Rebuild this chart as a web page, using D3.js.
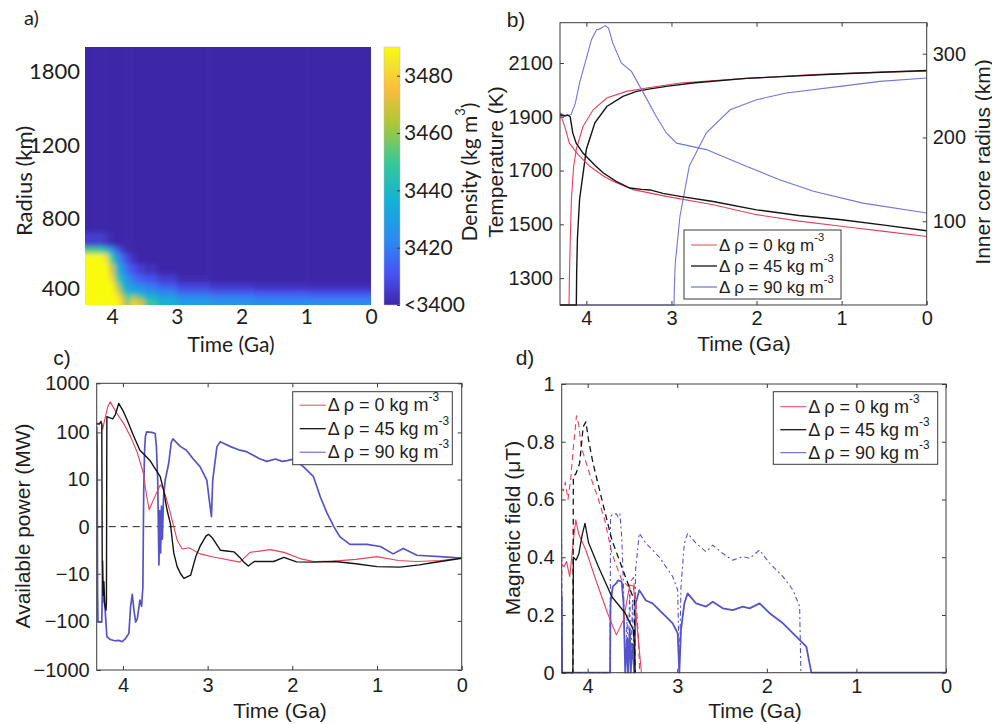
<!DOCTYPE html>
<html><head><meta charset="utf-8">
<script src="https://cdn.jsdelivr.net/npm/d3@7"></script>
<style>body{margin:0;background:#fff}</style>
</head><body>
<svg id="chart" width="992" height="724"></svg>
<script>
// ---------------- DATA ----------------
const timeTicks = [4, 3, 2, 1, 0];
const seriesNames = ["0", "45", "90"];
const seriesColors = ["#e8405a", "#141414", "#5454c8"];

// Panel a: density field (rows bottom->top, columns old->young)
const heatTimeEdges = [4.7, 4.28, 4.14, 4.05, 3.96, 3.88, 3.8, 3.72, 3.62, 3.5, 3.3, 3.0, 2.5, 1.8, 1.0, -0.3];
const heatRadiusEdges = [200, 330, 360, 390, 430, 480, 540, 600, 640, 720, 900, 2200];
const densityGrid = [
  [3500,3500,3500,3500,3494,3478,3455,3480,3472,3450,3438,3430,3427,3425,3424],
  [3500,3500,3500,3500,3488,3472,3450,3466,3456,3440,3431,3425,3421,3419,3418],
  [3500,3500,3500,3500,3480,3455,3440,3438,3434,3428,3422,3416,3413,3411,3410],
  [3500,3500,3500,3490,3468,3442,3432,3428,3424,3420,3414,3408,3405,3403,3402],
  [3500,3500,3500,3482,3452,3435,3425,3418,3414,3410,3406,3401,3398,3396,3395],
  [3500,3500,3494,3470,3440,3425,3415,3410,3406,3403,3399,3396,3395,3395,3395],
  [3500,3500,3484,3450,3428,3415,3408,3403,3399,3396,3395,3395,3395,3395,3395],
  [3452,3450,3442,3425,3412,3405,3398,3395,3395,3395,3395,3395,3395,3395,3395],
  [3406,3406,3404,3401,3398,3395,3395,3395,3395,3395,3395,3395,3395,3395,3395],
  [3395,3395,3395,3395,3395,3395,3395,3395,3395,3395,3395,3395,3395,3395,3395],
  [3395,3395,3395,3395,3395,3395,3395,3395,3395,3395,3395,3395,3395,3395,3395]
];
const radiusTicks = [400, 800, 1200, 1800];
const densityTicks = [3400, 3420, 3440, 3460, 3480];
const densityTickLabels = ["<3400", "3420", "3440", "3460", "3480"];

// Panel b: temperature (K) and inner core radius (km)
const tempTicks = [1300, 1500, 1700, 1900, 2100];
const icTicks = [100, 200, 300];
const tempRed = [[4.31,1914],[4.25,1860],[4.2,1802],[4.1,1760],[3.96,1716],[3.8,1680],[3.69,1660],[3.45,1629],[3.06,1604],[2.51,1573],[2.0,1536],[1.5,1512],[0.98,1492],[0.5,1474],[0,1455]];
const tempBlack = [[4.31,1908],[4.26,1903],[4.22,1907],[4.19,1900],[4.16,1840],[4.12,1802],[4.04,1765],[3.9,1720],[3.8,1691],[3.65,1660],[3.49,1635],[3.35,1630],[3.25,1628],[3.1,1615],[2.9,1604],[2.51,1585],[2.0,1554],[1.5,1533],[1.0,1517],[0.5,1497],[0,1476]];
const tempBlue = [[4.31,1914],[4.24,1902],[4.18,1908],[4.13,1950],[4.08,2026],[3.94,2187],[3.88,2224],[3.84,2227],[3.78,2239],[3.74,2230],[3.69,2175],[3.59,2100],[3.47,2069],[3.33,1989],[3.18,1902],[3.06,1840],[2.94,1802],[2.59,1778],[2.12,1716],[1.73,1666],[1.33,1623],[0.75,1579],[0,1542]];
const icRed = [[4.31,0],[4.204,0],[4.2,30],[4.19,75],[4.176,126],[4.15,165],[4.118,186],[4.04,213],[3.92,233],[3.76,247],[3.53,255],[3.29,259],[2.9,265],[2.12,270.5],[1.33,275],[0.5,278],[0,279]];
const icBlack = [[4.31,0],[4.118,0],[4.114,40],[4.105,80],[4.08,126],[4.0,186],[3.9,217.5],[3.76,237],[3.57,249],[3.41,255],[3.25,258],[3.06,261],[2.75,265],[2.12,270.5],[1.0,276],[0,280]];
const icBlue = [[4.31,0],[2.97,0],[2.965,25],[2.955,50],[2.9,106],[2.79,166],[2.59,205.6],[2.31,233],[2.0,245],[1.65,253],[1.02,261],[0.55,267],[0,271]];

// Panel c: available power (MW)
const powerTicks = [-1000, -100, -10, 0, 10, 100, 1000];
const powRed = [[4.31,155],[4.28,150],[4.26,172],[4.24,115],[4.21,200],[4.18,330],[4.15,420],[4.12,340],[4.07,244],[3.99,150],[3.91,82],[3.83,38],[3.76,14],[3.72,4],[3.69,1.5],[3.62,4],[3.56,7.5],[3.52,6],[3.44,1.1],[3.36,-1.1],[3.3,-2.3],[3.22,-2.1],[3.09,-3.2],[2.93,-3.9],[2.62,-5.3],[2.5,-2.9],[2.26,-2.4],[2.1,-2.9],[1.91,-4.3],[1.75,-5.1],[1.51,-5.0],[1.25,-4.5],[1.0,-3.8],[0.75,-4.8],[0.53,-5.1],[0.25,-4.8],[0,-4.2]];
const powBlack = [[4.31,150],[4.28,148],[4.26,165],[4.25,150],[4.245,-4],[4.235,-30],[4.225,-15],[4.215,-45],[4.2,-60],[4.195,-40],[4.19,210],[4.16,200],[4.12,190],[4.09,230],[4.05,390],[4.0,280],[3.95,180],[3.88,90],[3.8,43],[3.68,26],[3.56,11.6],[3.52,5.6],[3.48,1.5],[3.44,0.2],[3.4,-3],[3.36,-6.8],[3.32,-10],[3.28,-12.7],[3.2,-10.7],[3.14,-3.8],[3.09,-1.9],[3.02,-0.7],[2.99,-0.54],[2.94,-0.9],[2.85,-2.5],[2.75,-2.7],[2.69,-2.8],[2.62,-4],[2.58,-5.1],[2.52,-6.6],[2.45,-5.1],[2.22,-5.1],[2.1,-4],[1.95,-5.2],[1.75,-5.3],[1.5,-5.1],[1.25,-5.8],[1.0,-6.8],[0.73,-7.0],[0.5,-6.2],[0.33,-5.4],[0,-4.2]];
const powBlue = [[4.31,131],[4.305,60],[4.3,-20],[4.295,-106],[4.27,-106],[4.25,-106],[4.245,-30],[4.24,-5],[4.235,-40],[4.225,-33],[4.21,-60],[4.19,-210],[4.15,-240],[4.1,-255],[4.05,-250],[4.01,-266],[3.97,-230],[3.93,-180],[3.91,-51],[3.89,-28],[3.87,-60],[3.85,-106],[3.83,-90],[3.8,-37],[3.78,-50],[3.765,-20],[3.755,5],[3.745,40],[3.735,82],[3.72,103],[3.66,100],[3.62,95],[3.605,51],[3.59,10],[3.575,-6.2],[3.565,1.4],[3.555,-3],[3.545,2],[3.535,-1],[3.52,4],[3.5,10],[3.46,22.5],[3.43,62],[3.41,74],[3.32,51],[3.25,43],[3.17,28],[3.09,19.3],[3.01,9.7],[2.98,3],[2.955,0.74],[2.94,9.7],[2.89,51],[2.85,64.6],[2.73,51],[2.62,43],[2.54,40],[2.38,28],[2.3,25],[2.2,28],[2.12,25],[2.06,26],[1.99,28],[1.87,19.3],[1.75,11.6],[1.67,3.8],[1.59,1.1],[1.51,0],[1.44,-0.74],[1.32,-1.6],[1.12,-1.6],[0.96,-1.9],[0.81,-3.2],[0.69,-2.2],[0.53,-3.5],[0.26,-3.8],[0,-4.2]];

// Panel d: magnetic field (microtesla), solid and dashed estimates
const fieldTicks = [0, 0.2, 0.4, 0.6, 0.8, 1];
const bRedSolid = [[4.3,0.379],[4.263,0.367],[4.237,0.385],[4.2,0.333],[4.163,0.448],[4.133,0.53],[4.1,0.48],[4.021,0.425],[3.909,0.321],[3.778,0.206],[3.68,0.131],[3.6,0.183],[3.53,0.304],[3.49,0.3],[3.46,0.2],[3.43,0.1],[3.4,0]];
const bRedDash = [[4.3,0.64],[4.27,0.63],[4.25,0.66],[4.22,0.6],[4.19,0.67],[4.16,0.78],[4.125,0.89],[4.1,0.86],[4.07,0.78],[4.0,0.71],[3.955,0.667],[3.88,0.6],[3.81,0.529],[3.73,0.414],[3.62,0.321],[3.55,0.3],[3.49,0.33],[3.45,0.206],[3.43,0.1],[3.42,0]];
const bBlackSolid = [[4.3,0],[4.165,0],[4.16,0.40],[4.13,0.39],[4.1,0.41],[4.06,0.48],[4.03,0.517],[3.99,0.45],[3.88,0.367],[3.73,0.263],[3.58,0.206],[3.49,0.148],[3.48,0.1],[3.47,0]];
const bBlackDash = [[4.3,0],[4.165,0],[4.16,0.679],[4.13,0.69],[4.09,0.725],[4.05,0.852],[4.02,0.869],[3.99,0.806],[3.94,0.725],[3.84,0.598],[3.73,0.46],[3.62,0.367],[3.51,0.275],[3.48,0.25],[3.47,0]];
const bBlueSolid = [[4.3,0.3],[4.29,0.25],[4.285,0],[3.75,0],[3.745,0.24],[3.72,0.298],[3.68,0.31],[3.66,0.32],[3.62,0.315],[3.6,0.24],[3.58,0],[3.56,0.12],[3.55,0],[3.53,0.15],[3.52,0],[3.5,0.1],[3.48,0],[3.465,0.24],[3.424,0.286],[3.35,0.25],[3.275,0.24],[3.2,0.217],[3.126,0.194],[3.051,0.171],[2.995,0.136],[2.977,0],[2.958,0.148],[2.921,0.24],[2.884,0.275],[2.79,0.24],[2.678,0.229],[2.604,0.246],[2.492,0.223],[2.38,0.217],[2.268,0.229],[2.193,0.223],[2.081,0.24],[1.969,0.206],[1.82,0.171],[1.671,0.125],[1.559,0.09],[1.503,0],[0,0]];
const bBlueDash = [[4.3,0.58],[4.29,0.45],[4.285,0],[3.75,0],[3.745,0.54],[3.72,0.55],[3.68,0.55],[3.66,0.54],[3.64,0.55],[3.62,0.47],[3.6,0.3],[3.58,0],[3.56,0.2],[3.55,0],[3.53,0.3],[3.52,0],[3.5,0.25],[3.48,0],[3.465,0.356],[3.424,0.483],[3.35,0.448],[3.275,0.425],[3.2,0.40],[3.126,0.367],[3.051,0.333],[2.995,0.286],[2.977,0],[2.958,0.3],[2.921,0.448],[2.884,0.483],[2.79,0.448],[2.678,0.419],[2.604,0.442],[2.492,0.413],[2.38,0.39],[2.268,0.402],[2.193,0.396],[2.081,0.425],[1.969,0.379],[1.82,0.333],[1.708,0.286],[1.634,0.229],[1.62,0]];

// Parula-like colour stops and their positions (fraction of colour range)
const parulaStops = ["#3e26a8","#4852f4","#2c8af0","#12b1d6","#37c897","#abc739","#fcbd3c","#f2e32d","#f9fb0e"];
const parulaPos = [0, 0.12, 0.25, 0.4, 0.55, 0.7, 0.84, 0.93, 1];

// ---------------- DRAW ----------------
const svg = d3.select("#chart");
svg.append("rect").attr("width", 992).attr("height", 724).attr("fill", "#fff");
const FONT = "'Liberation Sans', Arial, Helvetica, sans-serif";
const FONT_A = "Lato, 'Open Sans', sans-serif";
const AX = "#3a3a3a";
const TXT = "#1e1e1e";
const defs = svg.append("defs");

function styleAxis(sel, fs, fam) {
  sel.select(".domain").remove();
  sel.selectAll(".tick line").attr("stroke", AX).attr("stroke-width", 1);
  sel.selectAll("text").attr("font-size", fs).attr("font-family", fam).attr("fill", TXT);
}
function clip(id, x, y, w, h) {
  defs.append("clipPath").attr("id", id).append("rect").attr("x", x).attr("y", y).attr("width", w).attr("height", h);
  return `url(#${id})`;
}
function label(text, x, y, fs, fam, rot) {
  const t = svg.append("text").attr("x", x).attr("y", y).attr("text-anchor", "middle")
    .attr("dominant-baseline", "central").attr("font-size", fs).attr("font-family", fam).attr("fill", TXT).text(text);
  if (rot) t.attr("transform", `rotate(${rot},${x},${y})`);
  return t;
}
function frame(x, y, w, h) {
  svg.append("rect").attr("x", x).attr("y", y).attr("width", w).attr("height", h)
    .attr("fill", "none").attr("stroke", AX).attr("stroke-width", 1);
}
function legend(x, y, w, h, fs, rowGap, firstRow) {
  const g = svg.append("g");
  g.append("rect").attr("x", x).attr("y", y).attr("width", w).attr("height", h)
    .attr("fill", "#fff").attr("stroke", AX).attr("stroke-width", 1);
  seriesNames.forEach((n, i) => {
    const yy = y + firstRow + i * rowGap;
    g.append("line").attr("x1", x + 7).attr("x2", x + 33).attr("y1", yy).attr("y2", yy)
      .attr("stroke", seriesColors[i]).attr("stroke-width", i === 1 ? 1.3 : 1);
    const t = g.append("text").attr("x", x + 35).attr("y", yy).attr("dominant-baseline", "central")
      .attr("font-size", fs).attr("font-family", FONT).attr("fill", TXT);
    t.append("tspan").text(`Δ ρ = ${n} kg m`);
    t.append("tspan").attr("dy", -fs * 0.45).attr("font-size", fs * 0.66).text("-3");
  });
}

// ===== Panel a =====
const aL = 85, aT = 47, aW = 286, aH = 258;
const ax = d3.scaleLinear().domain([4.42, 0]).range([aL, aL + aW]);
const ay = d3.scaleLinear().domain([303, 400, 800, 1200, 1800, 1995])
  .range([aT + aH, aT + aH - 17, aT + aH - 87, aT + aH - 160, aT + aH - 234, aT]);
const dens = d3.scaleLinear().domain(parulaPos.map(p => 3400 + 90 * p))
  .range(parulaStops).interpolate(d3.interpolateRgb).clamp(true);

defs.append("filter").attr("id", "blurA").attr("x", "-5%").attr("y", "-5%").attr("width", "110%").attr("height", "110%")
  .append("feGaussianBlur").attr("stdDeviation", 2.5);
const heatOuter = svg.append("g").attr("clip-path", clip("clipA", aL, aT, aW, aH));
const heat = heatOuter.append("g").attr("filter", "url(#blurA)");
const cells = [];
densityGrid.forEach((row, ri) => row.forEach((v, ci) => cells.push({ri, ci, v})));
heat.selectAll("rect").data(cells).join("rect")
  .attr("x", d => ax(heatTimeEdges[d.ci]))
  .attr("width", d => ax(heatTimeEdges[d.ci + 1]) - ax(heatTimeEdges[d.ci]) + 0.5)
  .attr("y", d => ay(heatRadiusEdges[d.ri + 1]))
  .attr("height", d => ay(heatRadiusEdges[d.ri]) - ay(heatRadiusEdges[d.ri + 1]) + 0.5)
  .attr("fill", d => dens(d.v));

const axA = svg.append("g").attr("transform", `translate(0,${aT + aH})`)
  .call(d3.axisBottom(ax).tickValues(timeTicks).tickFormat(d3.format("d")).tickSize(0).tickPadding(4));
styleAxis(axA, 21, FONT_A);
const ayA = svg.append("g").attr("transform", `translate(${aL},0)`)
  .call(d3.axisLeft(ay).tickValues(radiusTicks).tickFormat(d3.format("d")).tickSize(0).tickPadding(5));
styleAxis(ayA, 22, FONT_A);
label("Radius (km)", 23, 181, 22, FONT_A, -90);
label("Time (Ga)", 231, 343, 21, FONT_A);
svg.append("text").attr("x", 24).attr("y", 17).attr("dominant-baseline", "central")
  .attr("font-size", 20).attr("font-family", FONT_A).attr("fill", TXT).text("a)");

// colorbar
const cbX = 384, cbW = 16;
const cbScale = d3.scaleLinear().domain([3400, 3490]).range([aT + aH, aT]);
const grad = defs.append("linearGradient").attr("id", "parula").attr("x1", 0).attr("y1", 1).attr("x2", 0).attr("y2", 0);
parulaStops.forEach((c, i) => grad.append("stop").attr("offset", parulaPos[i]).attr("stop-color", c));
svg.append("rect").attr("x", cbX).attr("y", aT).attr("width", cbW).attr("height", aH).attr("fill", "url(#parula)")
  .attr("stroke", "#bbb").attr("stroke-width", 0.5);
const cbAx = svg.append("g").attr("transform", `translate(${cbX + cbW},0)`)
  .call(d3.axisRight(cbScale).tickValues(densityTicks).tickFormat((d, i) => densityTickLabels[i]).tickSizeInner(-3).tickSizeOuter(0).tickPadding(4));
styleAxis(cbAx, 21, FONT_A);
const dl = svg.append("text").attr("transform", "translate(468,172) rotate(-90)").attr("text-anchor", "middle")
  .attr("dominant-baseline", "central").attr("font-size", 21).attr("font-family", FONT_A).attr("fill", TXT);
dl.append("tspan").text("Density (kg m");
dl.append("tspan").attr("dy", -8).attr("font-size", 13).text("3");
dl.append("tspan").attr("dy", 8).text(")");

// ===== Panel b =====
const bL = 560, bT = 22.7, bR = 926.7, bB = 305;
const bx = d3.scaleLinear().domain([4.31, 0]).range([bL, bR]);
const byT = d3.scaleLinear().domain([1200, 2250]).range([bB, bT]);
const byR = d3.scaleLinear().domain([0, 337]).range([bB, bT]);
const gbx = svg.append("g").attr("transform", `translate(0,${bB})`)
  .call(d3.axisBottom(bx).tickValues(timeTicks).tickFormat(d3.format("d")).tickSizeInner(-4).tickSizeOuter(0).tickPadding(6));
styleAxis(gbx, 20, FONT);
const gbt = svg.append("g").attr("transform", `translate(0,${bT})`)
  .call(d3.axisTop(bx).tickValues(timeTicks).tickFormat("").tickSizeInner(-4).tickSizeOuter(0));
styleAxis(gbt, 20, FONT);
const gby = svg.append("g").attr("transform", `translate(${bL},0)`)
  .call(d3.axisLeft(byT).tickValues(tempTicks).tickFormat(d3.format("d")).tickSizeInner(-4).tickSizeOuter(0).tickPadding(7));
styleAxis(gby, 20, FONT);
const gbr = svg.append("g").attr("transform", `translate(${bR},0)`)
  .call(d3.axisRight(byR).tickValues(icTicks).tickFormat(d3.format("d")).tickSizeInner(-4).tickSizeOuter(0).tickPadding(6));
styleAxis(gbr, 20, FONT);
const clipB = clip("clipB", bL, bT, bR - bL, bB - bT + 1);
const gB = svg.append("g").attr("clip-path", clipB);
const lineBT = d3.line().x(d => bx(d[0])).y(d => byT(d[1]));
const lineBR = d3.line().x(d => bx(d[0])).y(d => byR(d[1]));
const bColors = ["#e8405a", "#141414", "#7474dc"];
[[icBlue, 2], [icRed, 0], [icBlack, 1]].forEach(([d, i]) =>
  gB.append("path").attr("d", lineBR(d)).attr("fill", "none").attr("stroke", bColors[i]).attr("stroke-width", i === 1 ? 1.4 : 1.1));
[[tempBlue, 2], [tempRed, 0], [tempBlack, 1]].forEach(([d, i]) =>
  gB.append("path").attr("d", lineBT(d)).attr("fill", "none").attr("stroke", bColors[i]).attr("stroke-width", i === 1 ? 1.4 : 1.1));
frame(bL, bT, bR - bL, bB - bT);
legend(684, 230, 157, 69, 17, 21, 15);
label("Temperature (K)", 495, 162, 21, FONT, -90);
label("Inner core radius (km)", 982, 162, 21, FONT, -90);
label("Time (Ga)", 744, 343, 21, FONT);
label("b)", 516, 19, 21, FONT);

// ===== Panel c =====
const cL = 96.7, cT = 383.3, cR = 461.7, cB = 670;
const cx = d3.scaleLinear().domain([4.31, 0]).range([cL, cR]);
const cy = d3.scaleSymlog().constant(1.25).domain([-1000, 1000]).range([cB, cT]);
const gcx = svg.append("g").attr("transform", `translate(0,${cB})`)
  .call(d3.axisBottom(cx).tickValues(timeTicks).tickFormat(d3.format("d")).tickSizeInner(-4).tickSizeOuter(0).tickPadding(8));
styleAxis(gcx, 20, FONT);
const gct = svg.append("g").attr("transform", `translate(0,${cT})`)
  .call(d3.axisTop(cx).tickValues(timeTicks).tickFormat("").tickSizeInner(-4).tickSizeOuter(0));
styleAxis(gct, 20, FONT);
const gcy = svg.append("g").attr("transform", `translate(${cL},0)`)
  .call(d3.axisLeft(cy).tickValues(powerTicks).tickFormat(d3.format("d")).tickSizeInner(-4).tickSizeOuter(0).tickPadding(7));
styleAxis(gcy, 20, FONT);
const gcr = svg.append("g").attr("transform", `translate(${cR},0)`)
  .call(d3.axisRight(cy).tickValues(powerTicks).tickFormat("").tickSizeInner(-4).tickSizeOuter(0));
styleAxis(gcr, 20, FONT);
const gC = svg.append("g").attr("clip-path", clip("clipC", cL, cT, cR - cL, cB - cT));
gC.append("line").attr("x1", cL).attr("x2", cR).attr("y1", cy(0)).attr("y2", cy(0))
  .attr("stroke", "#222").attr("stroke-width", 1).attr("stroke-dasharray", "7,5");
const lineC = d3.line().x(d => cx(d[0])).y(d => cy(d[1]));
[[powBlue, 2, 1.7], [powRed, 0, 1.1], [powBlack, 1, 1.4]].forEach(([d, i, w]) =>
  gC.append("path").attr("d", lineC(d)).attr("fill", "none").attr("stroke", seriesColors[i]).attr("stroke-width", w).attr("stroke-linejoin", "round"));
frame(cL, cT, cR - cL, cB - cT);
legend(292.7, 391.7, 159.6, 73, 18, 23.5, 13.5);
label("Available power (MW)", 22, 526, 21, FONT, -90);
label("Time (Ga)", 280, 710, 21, FONT);
label("c)", 62, 357, 21, FONT);

// ===== Panel d =====
const dL = 561.7, dT = 384, dR = 946, dB = 672.7;
const dx = d3.scaleLinear().domain([4.29, 0]).range([dL, dR]);
const dy = d3.scaleLinear().domain([0, 1]).range([dB, dT]);
const gdx = svg.append("g").attr("transform", `translate(0,${dB})`)
  .call(d3.axisBottom(dx).tickValues(timeTicks).tickFormat(d3.format("d")).tickSizeInner(-4).tickSizeOuter(0).tickPadding(6));
styleAxis(gdx, 20, FONT);
const gdt = svg.append("g").attr("transform", `translate(0,${dT})`)
  .call(d3.axisTop(dx).tickValues(timeTicks).tickFormat("").tickSizeInner(-4).tickSizeOuter(0));
styleAxis(gdt, 20, FONT);
const gdy = svg.append("g").attr("transform", `translate(${dL},0)`)
  .call(d3.axisLeft(dy).tickValues(fieldTicks).tickFormat(d => d === 0 || d === 1 ? d3.format("d")(d) : d3.format(".1f")(d)).tickSizeInner(-4).tickSizeOuter(0).tickPadding(7));
styleAxis(gdy, 20, FONT);
const gdr = svg.append("g").attr("transform", `translate(${dR},0)`)
  .call(d3.axisRight(dy).tickValues(fieldTicks).tickFormat("").tickSizeInner(-4).tickSizeOuter(0));
styleAxis(gdr, 20, FONT);
const gD = svg.append("g").attr("clip-path", clip("clipD", dL, dT, dR - dL, dB - dT + 1));
const lineD = d3.line().x(d => dx(d[0])).y(d => dy(d[1]));
[[bBlueDash, 2, 1.1, "5,3,2,3"], [bBlueSolid, 2, 1.8, null], [bRedDash, 0, 1.1, "6,4"], [bRedSolid, 0, 1.1, null],
 [bBlackDash, 1, 1.3, "6,4"], [bBlackSolid, 1, 1.3, null]].forEach(([d, i, w, da]) => {
  const p = gD.append("path").attr("d", lineD(d)).attr("fill", "none").attr("stroke", seriesColors[i]).attr("stroke-width", w).attr("stroke-linejoin", "round");
  if (da) p.attr("stroke-dasharray", da);
});
frame(dL, dT, dR - dL, dB - dT);
legend(773.3, 391.7, 164.4, 72.6, 18, 23, 15);
label("Magnetic field (μT)", 512, 528, 21, FONT, -90);
label("Time (Ga)", 755, 710, 21, FONT);
label("d)", 525, 357, 21, FONT);
</script>
</body></html>
